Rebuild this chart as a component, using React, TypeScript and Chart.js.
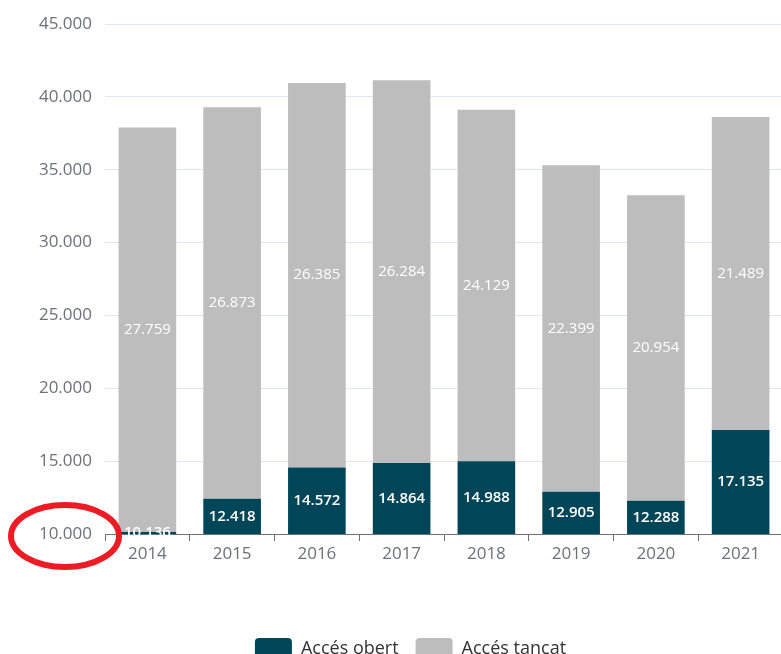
import React, { useEffect, useRef } from "react";
import { Chart, registerables } from "chart.js";

Chart.register(...registerables);

const years = ["2014", "2015", "2016", "2017", "2018", "2019", "2020", "2021"];
const accesObert = [10136, 12418, 14572, 14864, 14988, 12905, 12288, 17135];
const accesTancat = [27759, 26873, 26385, 26284, 24129, 22399, 20954, 21489];
const yMin = 10000;
const yMax = 45000;
const yStep = 5000;

const FONT = "'Open Sans', 'Noto Sans', sans-serif";
const TEAL = "#014558";
const GREY = "#bdbdbd";

const fmt = (v: number) => String(v).replace(/\B(?=(\d{3})+(?!\d))/g, ".");

const barLabels = {
  id: "barLabels",
  afterDatasetsDraw(chart: any) {
    const ctx = chart.ctx;
    const area = chart.chartArea;
    chart.data.datasets.forEach((ds: any, di: number) => {
      const meta = chart.getDatasetMeta(di);
      meta.data.forEach((bar: any, i: number) => {
        const p = bar.getProps(["x", "y", "base"], true);
        const top = Math.max(Math.min(p.y, p.base), area.top);
        const bottom = Math.min(Math.max(p.y, p.base), area.bottom);
        ctx.save();
        ctx.font = `${di === 0 ? 600 : 400} 15px ${FONT}`;
        ctx.fillStyle = "#ffffff";
        ctx.textAlign = "center";
        ctx.textBaseline = "middle";
        ctx.fillText(fmt(ds.data[i]), p.x, (top + bottom) / 2);
        ctx.restore();
      });
    });
  },
};

const redCircle = {
  id: "redCircle",
  afterDraw(chart: any) {
    const s = chart.scales.y;
    const ctx = chart.ctx;
    const cy = s.getPixelForValue(yMin) + 2;
    const cx = s.right - 40;
    ctx.save();
    ctx.beginPath();
    ctx.ellipse(cx, cy, 54, 31, 0, 0, Math.PI * 2);
    ctx.lineWidth = 6;
    ctx.strokeStyle = "#ec1c24";
    ctx.stroke();
    ctx.restore();
  },
};

export default function App() {
  const ref = useRef<HTMLCanvasElement>(null);
  useEffect(() => {
    if (!ref.current) return;
    const chart = new Chart(ref.current, {
      type: "bar",
      data: {
        labels: years,
        datasets: [
          {
            label: "Accés obert",
            data: accesObert,
            backgroundColor: TEAL,
            borderWidth: 0,
            categoryPercentage: 1,
            barPercentage: 0.68,
          },
          {
            label: "Accés tancat",
            data: accesTancat,
            backgroundColor: GREY,
            borderWidth: 0,
            categoryPercentage: 1,
            barPercentage: 0.68,
          },
        ],
      },
      options: {
        responsive: false,
        animation: false,
        devicePixelRatio: 1,
        layout: { padding: { top: 24, left: 38, right: 39, bottom: 11 } },
        plugins: {
          tooltip: { enabled: false },
          legend: {
            position: "bottom",
            labels: {
              boxWidth: 37,
              boxHeight: 21,
              padding: 17,
              useBorderRadius: true,
              borderRadius: 4,
              color: "#333333",
              font: { family: FONT, size: 18 },
            },
          },
        },
        scales: {
          x: {
            stacked: true,
            offset: true,
            grid: {
              offset: true,
              drawOnChartArea: false,
              drawTicks: true,
              tickLength: 7,
              tickColor: "#6e7079",
            },
            border: { display: true, color: "#6e7079", width: 1 },
            ticks: { color: "#6e7079", padding: 3, font: { family: FONT, size: 17 } },
            afterFit: (s: any) => {
              s.height = 87;
            },
          },
          y: {
            stacked: true,
            min: yMin,
            max: yMax,
            grid: { color: "#e0e6f1", drawTicks: false },
            border: { display: false },
            ticks: {
              stepSize: yStep,
              padding: 13,
              color: "#6e7079",
              font: { family: FONT, size: 17 },
              callback: (v: any) => fmt(Number(v)),
            },
            afterFit: (s: any) => {
              s.width = 67;
            },
          },
        },
      },
      plugins: [barLabels, redCircle],
    });
    return () => chart.destroy();
  }, []);
  return (
    <div
      style={{
        position: "absolute",
        left: 0,
        top: 0,
        width: 781,
        height: 654,
        overflow: "hidden",
        background: "#fff",
      }}
    >
      <canvas ref={ref} width={822} height={680} style={{ width: 822, height: 680, display: "block" }} />
    </div>
  );
}
